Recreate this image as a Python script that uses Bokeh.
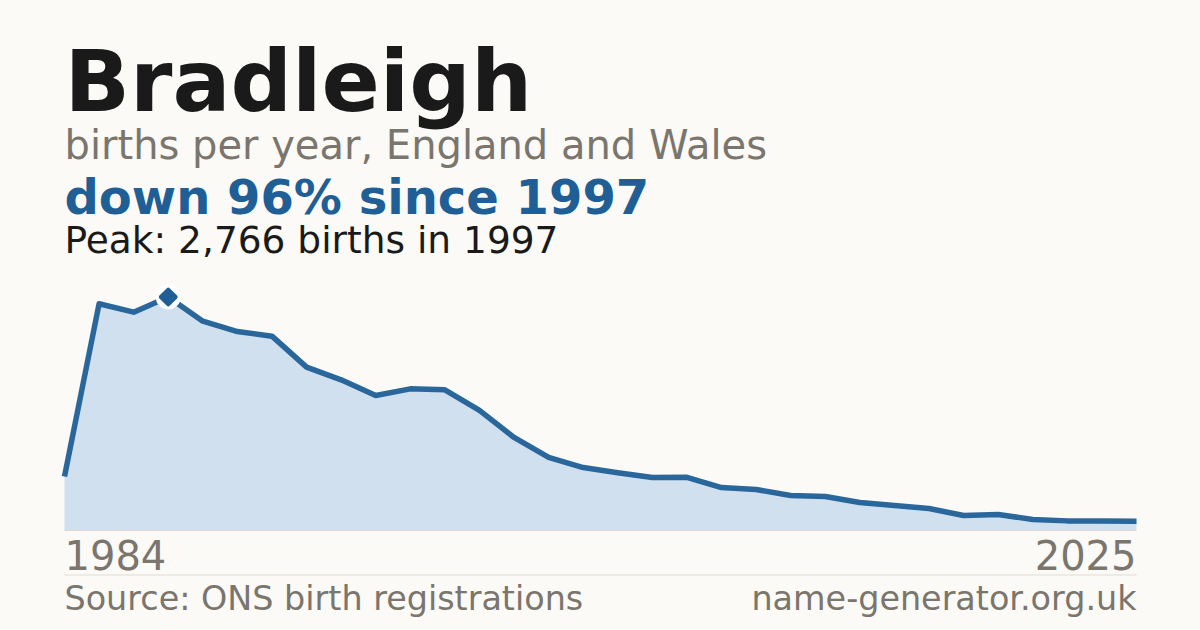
import math
from bokeh.plotting import figure
from bokeh.models import Range1d, Label
from bokeh.embed import file_html
from bokeh.resources import INLINE

# ---- data -------------------------------------------------------------
years = [1984, 1995, 1996, 1997, 1998, 1999, 2000, 2001, 2002, 2003, 2004,
         2005, 2006, 2007, 2008, 2009, 2010, 2011, 2012, 2013, 2014, 2015,
         2016, 2017, 2018, 2019, 2020, 2021, 2022, 2023, 2024, 2025]
births = [640, 2686, 2586, 2766, 2480, 2357, 2302, 1935, 1785, 1599, 1678,
          1667, 1422, 1102, 865, 746, 684, 628, 630, 509, 486, 415,
          403, 332, 296, 261, 178, 190, 130, 114, 112, 111]
tick_labels = [str(years[0]), str(years[-1])]

place = "Bradleigh"
subtitle = "births per year, England and Wales"
source_text = "Source: ONS birth registrations"
site_text = "name-generator.org.uk"

# ---- style ------------------------------------------------------------
BG = "#fbfaf6"
DARK = "#1a1a1a"
GREY = "#7a756d"
BLUE = "#1f5f96"
FILL = "#d0e0ef"
RULE = "#dfdbd2"
FONT = "DejaVu Sans"

W, H = 1200, 630
K = 0.38   # empirical baseline correction (fraction of font size)

def sy(page_y):            # page y (from top) -> screen y from bottom
    return H - page_y

n = len(births)
peak = max(births)
peak_i = births.index(peak)

# scales: first index at x 64, last index at x 1136
left_px, right_px = 64, 1136
ppu = (right_px - left_px) / (n - 1)
x_start = -left_px / ppu
x_end = (n - 1) + (W - right_px) / ppu

base_px = sy(530)          # value 0
peak_px = sy(296.5)        # peak value
upp = peak / (peak_px - base_px)
y_start = -base_px * upp
y_end = y_start + H * upp

p = figure(width=W, height=H, output_backend="svg", toolbar_location=None,
           x_range=Range1d(x_start, x_end), y_range=Range1d(y_start, y_end),
           x_axis_type=None, y_axis_type=None, min_border=0,
           min_border_left=0, min_border_right=0, min_border_top=0,
           min_border_bottom=0)
p.grid.visible = False
p.outline_line_color = None
p.background_fill_color = BG
p.border_fill_color = BG

idx = list(range(n))
p.varea(x=idx, y1=[0] * n, y2=births, fill_color=FILL)
p.segment(x0=[0], y0=[0], x1=[n - 1], y1=[0], line_color=RULE, line_width=1)
p.line(idx, births, line_width=5.5, line_color=BLUE, line_alpha=0.95,
       line_join="round", line_cap="butt")

# peak marker: white halo + rounded dark diamond
p.scatter([peak_i], [peak], marker="circle", size=25,
          fill_color="white", line_color=None)
p.scatter([peak_i], [peak], marker="square", angle=math.pi / 4, size=10.5,
          fill_color=BLUE, line_color=BLUE, line_width=4, line_join="round")

# separator rule above footer
y_sep = y_start + sy(574.5) * upp
p.segment(x0=[0], y0=[y_sep], x1=[n - 1], y1=[y_sep], line_color=RULE,
          line_width=1)

def label(text, x, page_y, size, color, bold=False, align="left", x_units="screen"):
    p.add_layout(Label(x=x, y=sy(page_y) + K * size, x_units=x_units,
                       y_units="screen", text=text,
                       text_font=FONT, text_font_size=f"{size}px",
                       text_font_style="bold" if bold else "normal",
                       text_color=color, text_align=align,
                       text_baseline="alphabetic"))

pct = round((1 - births[-1] / peak) * 100)
label(place, 64, 112.7, 86, DARK, bold=True)
label(subtitle, 64, 160, 40, GREY)
label(f"down {pct}% since {years[peak_i]}", 64, 215, 48, BLUE, bold=True)
label(f"Peak: {peak:,} births in {years[peak_i]}", 64, 253.5, 37.5, DARK)

label(tick_labels[0], 0, 569.5, 40, GREY, align="left", x_units="data")
label(tick_labels[1], n - 1, 569.5, 40, GREY, align="right", x_units="data")

label(source_text, 64, 611, 33.4, GREY)
label(site_text, 1136, 611, 33.4, GREY, align="right")

html = file_html(p, INLINE, title=place)
html = html.replace("<head>", "<head><style>html,body{background:%s;}</style>" % BG, 1)
open("out.html", "w").write(html)
